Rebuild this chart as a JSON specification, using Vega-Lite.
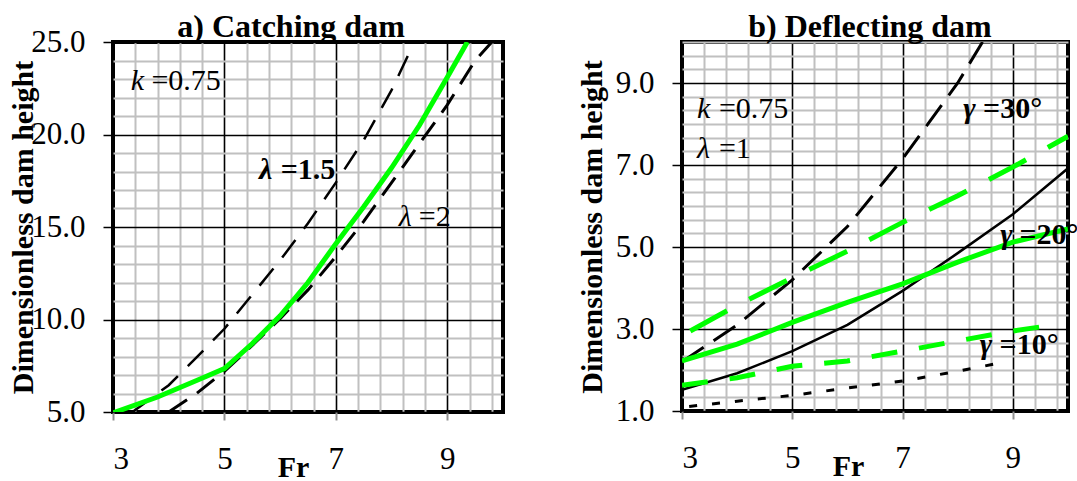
{
  "$schema": "https://vega.github.io/schema/vega-lite/v6.json",
  "background": "white",
  "padding": {"left": 5, "top": 8, "right": 0, "bottom": 0},
  "bounds": "flush",
  "spacing": 179,
  "datasets": {
    "catching": [
      {"curve": "green", "fr": 3.0, "h": 4.95},
      {"curve": "green", "fr": 3.8, "h": 5.81},
      {"curve": "green", "fr": 4.5, "h": 6.7},
      {"curve": "green", "fr": 5.0, "h": 7.35},
      {"curve": "green", "fr": 5.5, "h": 8.7},
      {"curve": "green", "fr": 6.0, "h": 10.2},
      {"curve": "green", "fr": 6.5, "h": 12.0},
      {"curve": "green", "fr": 7.0, "h": 14.1},
      {"curve": "green", "fr": 7.5, "h": 16.1},
      {"curve": "green", "fr": 8.0, "h": 18.2},
      {"curve": "green", "fr": 8.5, "h": 20.5},
      {"curve": "green", "fr": 9.0, "h": 23.1},
      {"curve": "green", "fr": 9.36, "h": 25.0},
      {"curve": "lambda15", "fr": 3.35, "h": 5.0},
      {"curve": "lambda15", "fr": 4.0, "h": 6.45},
      {"curve": "lambda15", "fr": 4.5, "h": 7.95},
      {"curve": "lambda15", "fr": 5.0, "h": 9.5},
      {"curve": "lambda15", "fr": 5.5, "h": 11.35},
      {"curve": "lambda15", "fr": 6.0, "h": 13.2},
      {"curve": "lambda15", "fr": 6.5, "h": 15.2},
      {"curve": "lambda15", "fr": 7.0, "h": 17.4},
      {"curve": "lambda15", "fr": 7.5, "h": 19.7},
      {"curve": "lambda15", "fr": 8.0, "h": 22.4},
      {"curve": "lambda15", "fr": 8.3, "h": 24.3},
      {"curve": "lambda2", "fr": 4.0, "h": 5.0},
      {"curve": "lambda2", "fr": 4.5, "h": 6.0},
      {"curve": "lambda2", "fr": 5.0, "h": 7.2},
      {"curve": "lambda2", "fr": 5.5, "h": 8.6},
      {"curve": "lambda2", "fr": 6.0, "h": 10.05},
      {"curve": "lambda2", "fr": 6.5, "h": 11.6},
      {"curve": "lambda2", "fr": 7.0, "h": 13.4},
      {"curve": "lambda2", "fr": 7.5, "h": 15.3},
      {"curve": "lambda2", "fr": 8.0, "h": 17.4},
      {"curve": "lambda2", "fr": 8.5, "h": 19.5},
      {"curve": "lambda2", "fr": 9.0, "h": 21.6},
      {"curve": "lambda2", "fr": 9.5, "h": 24.0},
      {"curve": "lambda2", "fr": 9.8, "h": 25.0}
    ],
    "deflecting": [
      {"curve": "black30", "fr": 3.0, "h": 2.2},
      {"curve": "black30", "fr": 4.0, "h": 3.1},
      {"curve": "black30", "fr": 5.0, "h": 4.2},
      {"curve": "black30", "fr": 6.0, "h": 5.5},
      {"curve": "black30", "fr": 7.0, "h": 7.15},
      {"curve": "black30", "fr": 8.0, "h": 9.0},
      {"curve": "black30", "fr": 8.45, "h": 10.0},
      {"curve": "green30", "fr": 3.15, "h": 2.95},
      {"curve": "green30", "fr": 4.0, "h": 3.58},
      {"curve": "green30", "fr": 5.0, "h": 4.25},
      {"curve": "green30", "fr": 6.0, "h": 4.9},
      {"curve": "green30", "fr": 7.0, "h": 5.6},
      {"curve": "green30", "fr": 8.0, "h": 6.25},
      {"curve": "green30", "fr": 9.0, "h": 6.95},
      {"curve": "green30", "fr": 10.0, "h": 7.7},
      {"curve": "black20", "fr": 3.0, "h": 1.52},
      {"curve": "black20", "fr": 4.0, "h": 1.92},
      {"curve": "black20", "fr": 5.0, "h": 2.46},
      {"curve": "black20", "fr": 6.0, "h": 3.1},
      {"curve": "black20", "fr": 7.0, "h": 3.93},
      {"curve": "black20", "fr": 8.0, "h": 4.85},
      {"curve": "black20", "fr": 9.0, "h": 5.8},
      {"curve": "black20", "fr": 10.0, "h": 6.92},
      {"curve": "green20", "fr": 3.0, "h": 2.22},
      {"curve": "green20", "fr": 4.0, "h": 2.63},
      {"curve": "green20", "fr": 5.0, "h": 3.16},
      {"curve": "green20", "fr": 6.0, "h": 3.65},
      {"curve": "green20", "fr": 7.0, "h": 4.1},
      {"curve": "green20", "fr": 8.0, "h": 4.63},
      {"curve": "green20", "fr": 9.0, "h": 5.12},
      {"curve": "green20", "fr": 10.0, "h": 5.44},
      {"curve": "green10", "fr": 3.0, "h": 1.63},
      {"curve": "green10", "fr": 4.0, "h": 1.81},
      {"curve": "green10", "fr": 5.0, "h": 2.09},
      {"curve": "green10", "fr": 6.0, "h": 2.22},
      {"curve": "green10", "fr": 7.0, "h": 2.46},
      {"curve": "green10", "fr": 8.0, "h": 2.71},
      {"curve": "green10", "fr": 9.0, "h": 2.95},
      {"curve": "green10", "fr": 9.85, "h": 3.12},
      {"curve": "black10", "fr": 3.13, "h": 1.11},
      {"curve": "black10", "fr": 4.0, "h": 1.24},
      {"curve": "black10", "fr": 5.0, "h": 1.38},
      {"curve": "black10", "fr": 6.0, "h": 1.56},
      {"curve": "black10", "fr": 7.0, "h": 1.73},
      {"curve": "black10", "fr": 8.0, "h": 1.97},
      {"curve": "black10", "fr": 8.8, "h": 2.18}
    ]
  },
  "hconcat": [
    {
      "width": 390,
      "height": 370,
      "title": {"text": "a) Catching dam", "dx": -17, "offset": -18},
      "layer": [
        {
          "data": {"name": "catching"},
          "transform": [{"filter": "datum.curve == 'lambda2'"}],
          "mark": {"type": "line", "color": "black", "strokeWidth": 3, "strokeDash": [22, 12], "clip": true},
          "encoding": {
            "x": {
              "field": "fr", "type": "quantitative",
              "scale": {"domain": [3, 10], "nice": false, "zero": false},
              "axis": {
                "values": [3, 3.4, 3.8, 4.2, 4.6, 5, 5.4, 5.8, 6.2, 6.6, 7, 7.4, 7.8, 8.2, 8.6, 9, 9.4, 9.8],
                "tickCount": 100,
                "labelExpr": "datum.value % 2 == 1 ? format(datum.value, 'd') : ''",
                "gridColor": {"condition": {"test": "datum.value % 2 == 1", "value": "black"}, "value": "#c0c0c0"},
                "gridWidth": {"condition": {"test": "datum.value % 2 == 1", "value": 1.6}, "value": 2},
                "tickOpacity": {"condition": {"test": "datum.value % 2 == 1", "value": 1}, "value": 0},
                "tickColor": "#909090", "tickSize": 8, "tickWidth": 2,
                "labelPadding": 24,
                "title": "Fr", "titleX": 180, "titleY": 64, "titleBaseline": "alphabetic", "titleAlign": "center"
              }
            },
            "y": {
              "field": "h", "type": "quantitative",
              "scale": {"domain": [5, 25], "nice": false, "zero": false},
              "axis": {
                "values": [5, 6, 7, 8, 9, 10, 11, 12, 13, 14, 15, 16, 17, 18, 19, 20, 21, 22, 23, 24, 25],
                "tickCount": 100,
                "labelExpr": "datum.value % 5 == 0 ? format(datum.value, '.1f') : ''",
                "gridColor": {"condition": {"test": "datum.value % 5 == 0", "value": "black"}, "value": "#c0c0c0"},
                "gridWidth": {"condition": {"test": "datum.value % 5 == 0", "value": 1.6}, "value": 2},
                "tickOpacity": {"condition": {"test": "datum.value % 5 == 0", "value": 1}, "value": 0},
                "tickColor": "black", "tickSize": 10, "tickWidth": 1.5,
                "labelPadding": 18,
                "title": "Dimensionless dam height", "titleX": -81, "titleY": 185, "titleBaseline": "alphabetic", "titleAlign": "center", "titleAngle": -90
              }
            }
          }
        },
        {
          "data": {"name": "catching"},
          "transform": [{"filter": "datum.curve == 'lambda15'"}],
          "mark": {"type": "line", "color": "black", "strokeWidth": 2.5, "strokeDash": [22, 14], "clip": true},
          "encoding": {
            "x": {"field": "fr", "type": "quantitative", "scale": {"domain": [3, 10], "nice": false, "zero": false}},
            "y": {"field": "h", "type": "quantitative", "scale": {"domain": [5, 25], "nice": false, "zero": false}}
          }
        },
        {
          "data": {"name": "catching"},
          "transform": [{"filter": "datum.curve == 'green'"}],
          "mark": {"type": "line", "color": "#00ff00", "strokeWidth": 5, "clip": true},
          "encoding": {
            "x": {"field": "fr", "type": "quantitative", "scale": {"domain": [3, 10], "nice": false, "zero": false}},
            "y": {"field": "h", "type": "quantitative", "scale": {"domain": [5, 25], "nice": false, "zero": false}}
          }
        },
        {"data": {"values": [{"t": "k"}]}, "mark": {"type": "text", "font": "Liberation Serif", "fontSize": 30, "fontStyle": "italic", "align": "left", "baseline": "alphabetic", "fill": "black"}, "encoding": {"text": {"field": "t"}, "x": {"datum": 3.32}, "y": {"datum": 22.4}}},
        {"data": {"values": [{"t": "=0.75"}]}, "mark": {"type": "text", "font": "Liberation Serif", "fontSize": 30, "align": "left", "baseline": "alphabetic", "fill": "black"}, "encoding": {"text": {"field": "t"}, "x": {"datum": 3.69}, "y": {"datum": 22.4}}},
        {"data": {"values": [{"t": "λ"}]}, "mark": {"type": "text", "font": "Liberation Serif", "fontSize": 30, "fontStyle": "italic", "fontWeight": "bold", "align": "left", "baseline": "alphabetic", "fill": "black"}, "encoding": {"text": {"field": "t"}, "x": {"datum": 5.62}, "y": {"datum": 17.58}}},
        {"data": {"values": [{"t": "=1.5"}]}, "mark": {"type": "text", "font": "Liberation Serif", "fontSize": 30, "fontWeight": "bold", "align": "left", "baseline": "alphabetic", "fill": "black"}, "encoding": {"text": {"field": "t"}, "x": {"datum": 6.01}, "y": {"datum": 17.58}}},
        {"data": {"values": [{"t": "λ "}]}, "mark": {"type": "text", "font": "Liberation Serif", "fontSize": 30, "fontStyle": "italic", "align": "left", "baseline": "alphabetic", "fill": "black"}, "encoding": {"text": {"field": "t"}, "x": {"datum": 8.13}, "y": {"datum": 15.06}}},
        {"data": {"values": [{"t": "=2"}]}, "mark": {"type": "text", "font": "Liberation Serif", "fontSize": 30, "align": "left", "baseline": "alphabetic", "fill": "black"}, "encoding": {"text": {"field": "t"}, "x": {"datum": 8.49}, "y": {"datum": 15.06}}}
      ]
    },
    {
      "width": 386,
      "height": 369,
      "title": {"text": "b) Deflecting dam", "dx": -5, "offset": -1.5},
      "layer": [
        {
          "data": {"name": "deflecting"},
          "transform": [{"filter": "datum.curve == 'black10'"}],
          "mark": {"type": "line", "color": "black", "strokeWidth": 3, "strokeDash": [8, 15], "clip": true},
          "encoding": {
            "x": {
              "field": "fr", "type": "quantitative",
              "scale": {"domain": [3, 10], "nice": false, "zero": false},
              "axis": {
                "values": [3, 3.4, 3.8, 4.2, 4.6, 5, 5.4, 5.8, 6.2, 6.6, 7, 7.4, 7.8, 8.2, 8.6, 9, 9.4, 9.8],
                "tickCount": 100,
                "labelExpr": "datum.value % 2 == 1 ? format(datum.value, 'd') : ''",
                "gridColor": {"condition": {"test": "datum.value % 2 == 1", "value": "black"}, "value": "#c0c0c0"},
                "gridWidth": {"condition": {"test": "datum.value % 2 == 1", "value": 1.6}, "value": 2},
                "tickOpacity": {"condition": {"test": "datum.value % 2 == 1", "value": 1}, "value": 0},
                "tickColor": "#909090", "tickSize": 8, "tickWidth": 2,
                "labelPadding": 24,
                "title": "Fr", "titleX": 166, "titleY": 64, "titleBaseline": "alphabetic", "titleAlign": "center"
              }
            },
            "y": {
              "field": "h", "type": "quantitative",
              "scale": {"domain": [1, 10], "nice": false, "zero": false},
              "axis": {
                "values": [1, 1.3333333, 1.6666667, 2, 2.3333333, 2.6666667, 3, 3.3333333, 3.6666667, 4, 4.3333333, 4.6666667, 5, 5.3333333, 5.6666667, 6, 6.3333333, 6.6666667, 7, 7.3333333, 7.6666667, 8, 8.3333333, 8.6666667, 9, 9.3333333, 9.6666667, 10],
                "tickCount": 100,
                "labelExpr": "datum.value % 2 == 1 ? format(datum.value, '.1f') : ''",
                "gridColor": {"condition": {"test": "datum.value % 2 == 1", "value": "black"}, "value": "#c0c0c0"},
                "gridWidth": {"condition": {"test": "datum.value % 2 == 1", "value": 1.6}, "value": 2},
                "tickOpacity": {"condition": {"test": "datum.value % 2 == 1", "value": 1}, "value": 0},
                "tickColor": "black", "tickSize": 10, "tickWidth": 1.5,
                "labelPadding": 18,
                "title": "Dimensionless dam height", "titleX": -81, "titleY": 184.5, "titleBaseline": "alphabetic", "titleAlign": "center", "titleAngle": -90
              }
            }
          }
        },
        {
          "data": {"name": "deflecting"},
          "transform": [{"filter": "datum.curve == 'black20'"}],
          "mark": {"type": "line", "color": "black", "strokeWidth": 2.5, "clip": true},
          "encoding": {
            "x": {"field": "fr", "type": "quantitative", "scale": {"domain": [3, 10], "nice": false, "zero": false}},
            "y": {"field": "h", "type": "quantitative", "scale": {"domain": [1, 10], "nice": false, "zero": false}}
          }
        },
        {
          "data": {"name": "deflecting"},
          "transform": [{"filter": "datum.curve == 'black30'"}],
          "mark": {"type": "line", "color": "black", "strokeWidth": 3, "strokeDash": [26, 12], "clip": true},
          "encoding": {
            "x": {"field": "fr", "type": "quantitative", "scale": {"domain": [3, 10], "nice": false, "zero": false}},
            "y": {"field": "h", "type": "quantitative", "scale": {"domain": [1, 10], "nice": false, "zero": false}}
          }
        },
        {
          "data": {"name": "deflecting"},
          "transform": [{"filter": "datum.curve == 'green10'"}],
          "mark": {"type": "line", "color": "#00ff00", "strokeWidth": 5, "strokeDash": [26, 22], "clip": true},
          "encoding": {
            "x": {"field": "fr", "type": "quantitative", "scale": {"domain": [3, 10], "nice": false, "zero": false}},
            "y": {"field": "h", "type": "quantitative", "scale": {"domain": [1, 10], "nice": false, "zero": false}}
          }
        },
        {
          "data": {"name": "deflecting"},
          "transform": [{"filter": "datum.curve == 'green20'"}],
          "mark": {"type": "line", "color": "#00ff00", "strokeWidth": 5, "clip": true},
          "encoding": {
            "x": {"field": "fr", "type": "quantitative", "scale": {"domain": [3, 10], "nice": false, "zero": false}},
            "y": {"field": "h", "type": "quantitative", "scale": {"domain": [1, 10], "nice": false, "zero": false}}
          }
        },
        {
          "data": {"name": "deflecting"},
          "transform": [{"filter": "datum.curve == 'green30'"}],
          "mark": {"type": "line", "color": "#00ff00", "strokeWidth": 5, "strokeDash": [42, 25], "clip": true},
          "encoding": {
            "x": {"field": "fr", "type": "quantitative", "scale": {"domain": [3, 10], "nice": false, "zero": false}},
            "y": {"field": "h", "type": "quantitative", "scale": {"domain": [1, 10], "nice": false, "zero": false}}
          }
        },
        {"data": {"values": [{"t": "k "}]}, "mark": {"type": "text", "font": "Liberation Serif", "fontSize": 30, "fontStyle": "italic", "align": "left", "baseline": "alphabetic", "fill": "black"}, "encoding": {"text": {"field": "t"}, "x": {"datum": 3.27}, "y": {"datum": 8.14}}},
        {"data": {"values": [{"t": "=0.75 "}]}, "mark": {"type": "text", "font": "Liberation Serif", "fontSize": 30, "align": "left", "baseline": "alphabetic", "fill": "black"}, "encoding": {"text": {"field": "t"}, "x": {"datum": 3.67}, "y": {"datum": 8.14}}},
        {"data": {"values": [{"t": "λ  "}]}, "mark": {"type": "text", "font": "Liberation Serif", "fontSize": 30, "fontStyle": "italic", "align": "left", "baseline": "alphabetic", "fill": "black"}, "encoding": {"text": {"field": "t"}, "x": {"datum": 3.27}, "y": {"datum": 7.16}}},
        {"data": {"values": [{"t": "=1"}]}, "mark": {"type": "text", "font": "Liberation Serif", "fontSize": 30, "align": "left", "baseline": "alphabetic", "fill": "black"}, "encoding": {"text": {"field": "t"}, "x": {"datum": 3.67}, "y": {"datum": 7.16}}},
        {"data": {"values": [{"t": "γ"}]}, "mark": {"type": "text", "font": "Liberation Serif", "fontSize": 30, "fontStyle": "italic", "fontWeight": "bold", "align": "left", "baseline": "alphabetic", "fill": "black"}, "encoding": {"text": {"field": "t"}, "x": {"datum": 8.1}, "y": {"datum": 8.14}}},
        {"data": {"values": [{"t": "=30°"}]}, "mark": {"type": "text", "font": "Liberation Serif", "fontSize": 30, "fontWeight": "bold", "align": "left", "baseline": "alphabetic", "fill": "black"}, "encoding": {"text": {"field": "t"}, "x": {"datum": 8.46}, "y": {"datum": 8.14}}},
        {"data": {"values": [{"t": "γ "}]}, "mark": {"type": "text", "font": "Liberation Serif", "fontSize": 30, "fontStyle": "italic", "fontWeight": "bold", "align": "left", "baseline": "alphabetic", "fill": "black"}, "encoding": {"text": {"field": "t"}, "x": {"datum": 8.77}, "y": {"datum": 5.08}}},
        {"data": {"values": [{"t": "=20°"}]}, "mark": {"type": "text", "font": "Liberation Serif", "fontSize": 30, "fontWeight": "bold", "align": "left", "baseline": "alphabetic", "fill": "black"}, "encoding": {"text": {"field": "t"}, "x": {"datum": 9.12}, "y": {"datum": 5.08}}},
        {"data": {"values": [{"t": "γ  "}]}, "mark": {"type": "text", "font": "Liberation Serif", "fontSize": 30, "fontStyle": "italic", "fontWeight": "bold", "align": "left", "baseline": "alphabetic", "fill": "black"}, "encoding": {"text": {"field": "t"}, "x": {"datum": 8.4}, "y": {"datum": 2.38}}},
        {"data": {"values": [{"t": "=10°"}]}, "mark": {"type": "text", "font": "Liberation Serif", "fontSize": 30, "fontWeight": "bold", "align": "left", "baseline": "alphabetic", "fill": "black"}, "encoding": {"text": {"field": "t"}, "x": {"datum": 8.76}, "y": {"datum": 2.38}}}
      ]
    }
  ],
  "config": {
    "view": {"stroke": "black", "strokeWidth": 4},
    "axis": {
      "domain": false,
      "grid": true,
      "labelFont": "Liberation Serif",
      "labelFontSize": 31,
      "labelColor": "black",
      "titleFont": "Liberation Serif",
      "titleFontSize": 30,
      "titleFontWeight": "bold",
      "titleColor": "black"
    },
    "title": {
      "font": "Liberation Serif",
      "fontSize": 32,
      "fontWeight": "bold",
      "color": "black",
      "anchor": "middle",
      "frame": "group",
      "baseline": "alphabetic"
    }
  }
}
